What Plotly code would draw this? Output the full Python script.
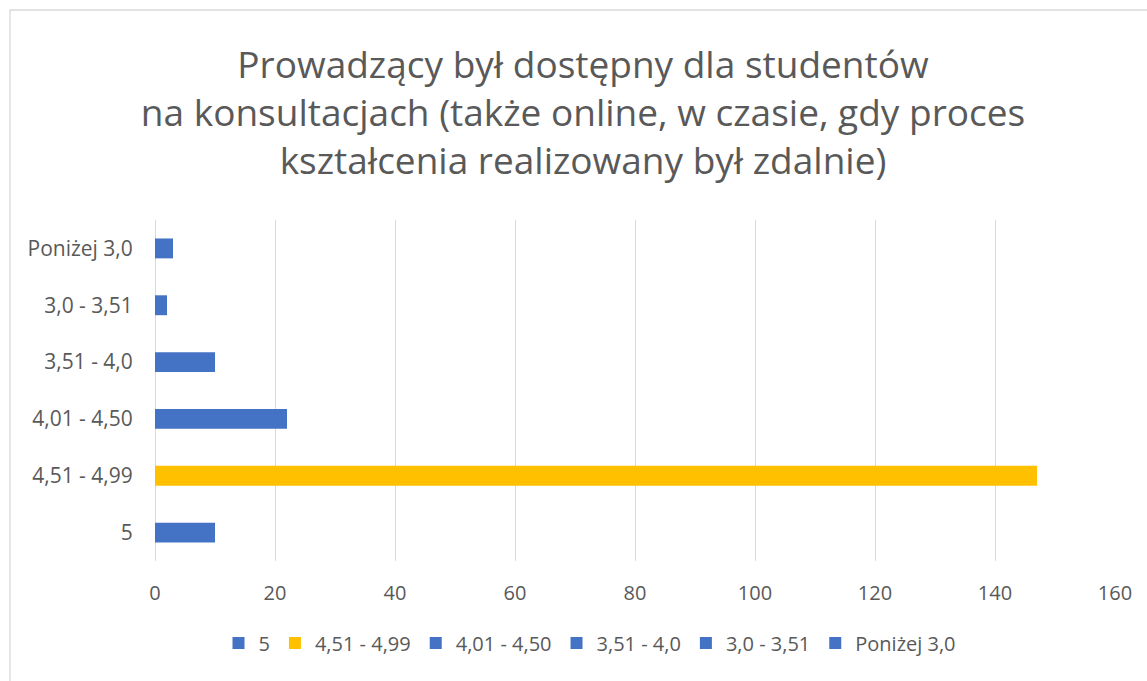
import plotly.graph_objects as go

categories = ["5", "4,51 - 4,99", "4,01 - 4,50", "3,51 - 4,0", "3,0 - 3,51", "Poniżej 3,0"]
values = [10, 147, 22, 10, 2, 3]
colors = ["#4472C4", "#FFC000", "#4472C4", "#4472C4", "#4472C4", "#4472C4"]
x_ticks = [0, 20, 40, 60, 80, 100, 120, 140, 160]

title_text = ("Prowadzący był dostępny dla studentów<br>"
              "na konsultacjach (także online, w czasie, gdy proces<br>"
              "kształcenia realizowany był zdalnie)")

fig = go.Figure()
for cat, val, col in zip(categories, values, colors):
    fig.add_trace(go.Bar(
        y=[cat], x=[val], name=cat, orientation="h",
        marker=dict(color=col, line=dict(width=0)),
        width=0.35,
    ))

FONT = "Open Sans"
fig.update_layout(
    width=1147, height=681,
    barmode="relative",
    paper_bgcolor="white", plot_bgcolor="white",
    margin=dict(l=155, r=32, t=220, b=120),
    title=dict(text=title_text, x=583/1147, xref="container", xanchor="center",
               y=1-78/681, yref="container", yanchor="middle",
               font=dict(family=FONT, size=37, color="#595959")),
    font=dict(family=FONT, color="#595959"),
    xaxis=dict(range=[0, 160], tickvals=x_ticks, showgrid=True, gridcolor="#d9d9d9",
               gridwidth=1, zeroline=True, zerolinecolor="#d9d9d9", zerolinewidth=1,
               showline=False, ticks="outside", ticklen=14, tickcolor="rgba(0,0,0,0)",
               tickfont=dict(family=FONT, size=20, color="#595959"), fixedrange=True),
    yaxis=dict(categoryorder="array", categoryarray=categories, showgrid=False,
               zeroline=False, showline=False, ticks="outside", ticklen=17,
               tickcolor="rgba(0,0,0,0)",
               tickfont=dict(family=FONT, size=21, color="#595959"),
               range=[-0.5, 5.5]),
    legend=dict(orientation="h", x=(590-155)/960, xanchor="center",
                y=(561-643)/341, yanchor="middle", traceorder="normal",
                font=dict(family=FONT, size=20, color="#595959"),
                itemwidth=30),
    showlegend=True,
    shapes=[dict(type="rect", xref="paper", yref="paper",
                 x0=(10-155)/960, x1=(1160-155)/960,
                 y0=(561-700)/341, y1=(561-10)/341,
                 line=dict(color="#d9d9d9", width=1.3), layer="below")],
)

fig.write_html("out.html", config={"displayModeBar": False},
               post_script="document.body.style.margin='0';")
